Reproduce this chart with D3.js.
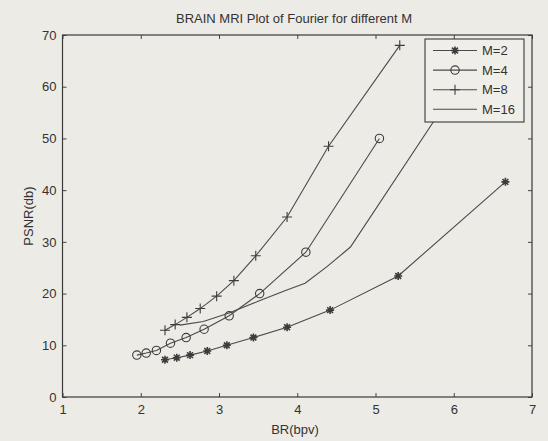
<!DOCTYPE html>
<meta charset="utf-8">
<style>
body { margin: 0; background: #ecebe6; }
svg { display: block; font-family: "Liberation Sans", Arial, sans-serif; }
.axis text { font-size: 13px; fill: #333; }
.axis line { stroke: #444; }
.series { fill: none; stroke: #4a4a4a; stroke-width: 1.1px; }
.mark { fill: none; stroke: #3c3c3c; stroke-width: 1.1px; }
</style>
<svg width="548" height="441"></svg>
<script src="https://cdn.jsdelivr.net/npm/d3@7"></script>
<script>

// bit rate (bpv) and PSNR (db)
var br2    = [2.31, 2.46, 2.63, 2.85, 3.10, 3.44, 3.87, 4.42, 5.29, 6.66],
    psnr2  = [7.2, 7.6, 8.1, 8.9, 10.0, 11.5, 13.5, 16.8, 23.4, 41.6];
var br4    = [1.95, 2.07, 2.20, 2.38, 2.58, 2.81, 3.13, 3.52, 4.11, 5.05],
    psnr4  = [8.1, 8.5, 9.0, 10.4, 11.5, 13.1, 15.7, 20.0, 28.0, 50.0];
var br8    = [2.31, 2.44, 2.59, 2.76, 2.97, 3.19, 3.47, 3.87, 4.40, 5.31],
    psnr8  = [12.9, 14.0, 15.4, 17.1, 19.5, 22.5, 27.3, 34.8, 48.5, 68.0];
var br16   = [2.50, 2.80, 3.12, 3.50, 3.85, 4.10, 4.38, 4.68, 5.95],
    psnr16 = [13.9, 14.6, 16.2, 18.5, 20.6, 22.0, 25.2, 29.0, 58.0];

var seriesNames = ["M=2", "M=4", "M=8", "M=16"],
    markers = ["star", "circle", "plus", "none"];
var xTicks = [1, 2, 3, 4, 5, 6, 7],
    yTicks = [0, 10, 20, 30, 40, 50, 60, 70];

var series = [
  {name: seriesNames[0], marker: markers[0], values: d3.zip(br2, psnr2)},
  {name: seriesNames[1], marker: markers[1], values: d3.zip(br4, psnr4)},
  {name: seriesNames[2], marker: markers[2], values: d3.zip(br8, psnr8)},
  {name: seriesNames[3], marker: markers[3], values: d3.zip(br16, psnr16)}
];

var svg = d3.select("svg"),
    plotL = 62.5, plotR = 532, plotT = 35, plotB = 397;

var x = d3.scaleLinear().domain([1, 7]).range([plotL, plotR]),
    y = d3.scaleLinear().domain([0, 70]).range([plotB, plotT]);

svg.append("rect")
    .attr("width", 548).attr("height", 441)
    .attr("fill", "#ecebe6");

svg.append("text")
    .attr("x", 294).attr("y", 23)
    .attr("text-anchor", "middle")
    .style("font-size", "13px").style("fill", "#333")
    .text("BRAIN MRI Plot of Fourier for different M");

// inward ticks on all four sides, like a matlab box
var fmt = d3.format("d");
svg.append("g").attr("class", "axis")
    .attr("transform", "translate(0," + plotB + ")")
    .call(d3.axisBottom(x).tickValues(xTicks).tickFormat(fmt).tickSizeInner(-4).tickSizeOuter(0).tickPadding(8));
svg.append("g").attr("class", "axis")
    .attr("transform", "translate(0," + plotT + ")")
    .call(d3.axisTop(x).tickValues(xTicks).tickSizeInner(-4).tickSizeOuter(0).tickFormat(""));
svg.append("g").attr("class", "axis")
    .attr("transform", "translate(" + plotL + ",0)")
    .call(d3.axisLeft(y).tickValues(yTicks).tickFormat(fmt).tickSizeInner(-4).tickSizeOuter(0).tickPadding(6));
svg.append("g").attr("class", "axis")
    .attr("transform", "translate(" + plotR + ",0)")
    .call(d3.axisRight(y).tickValues(yTicks).tickSizeInner(-4).tickSizeOuter(0).tickFormat(""));
svg.selectAll(".axis .domain").remove();
svg.selectAll(".axis text").style("font-family", "Liberation Sans, Arial, sans-serif");

svg.append("rect")
    .attr("x", plotL).attr("y", plotT)
    .attr("width", plotR - plotL).attr("height", plotB - plotT)
    .attr("fill", "none").attr("stroke", "#3a3a3a").attr("stroke-width", 1.2);

svg.append("text")
    .attr("x", 295).attr("y", 434)
    .attr("text-anchor", "middle")
    .style("font-size", "13px").style("fill", "#333")
    .text("BR(bpv)");

svg.append("text")
    .attr("transform", "translate(33,216) rotate(-90)")
    .attr("text-anchor", "middle")
    .style("font-size", "13px").style("fill", "#333")
    .text("PSNR(db)");

var line = d3.line()
    .x(function(d) { return x(d[0]); })
    .y(function(d) { return y(d[1]); });

function drawMarker(g, type, cx, cy) {
  if (type == "circle") {
    g.append("circle").attr("class", "mark")
        .attr("cx", cx).attr("cy", cy).attr("r", 4.2);
  } else if (type == "plus") {
    g.append("path").attr("class", "mark")
        .attr("d", "M" + (cx - 5) + "," + cy + "h10M" + cx + "," + (cy - 5) + "v10");
  } else if (type == "star") {
    var r = 4, q = 2.9;
    g.append("path").attr("class", "mark").style("stroke-width", "1.6px")
        .attr("d", "M" + (cx - r) + "," + cy + "h" + (2 * r) +
                   "M" + cx + "," + (cy - r) + "v" + (2 * r) +
                   "M" + (cx - q) + "," + (cy - q) + "l" + (2 * q) + "," + (2 * q) +
                   "M" + (cx - q) + "," + (cy + q) + "l" + (2 * q) + "," + (-2 * q));
  }
}

var plot = svg.append("g");

series.forEach(function(s) {
  plot.append("path")
      .attr("class", "series")
      .attr("d", line(s.values));
  s.values.forEach(function(d) {
    drawMarker(plot, s.marker, x(d[0]), y(d[1]));
  });
});

// legend box, opaque so it hides the end of M=16
var legend = svg.append("g");
legend.append("rect")
    .attr("x", 425).attr("y", 39)
    .attr("width", 99).attr("height", 83)
    .attr("fill", "#efeee9").attr("stroke", "#3a3a3a").attr("stroke-width", 1.1);

series.forEach(function(s, i) {
  var ly = 50.5 + i * 19.6;
  legend.append("line").attr("class", "series")
      .attr("x1", 433).attr("x2", 477).attr("y1", ly).attr("y2", ly);
  drawMarker(legend, s.marker, 455, ly);
  legend.append("text")
      .attr("x", 482).attr("y", ly + 4.5)
      .style("font-size", "13px").style("fill", "#333")
      .text(s.name);
});

</script>
